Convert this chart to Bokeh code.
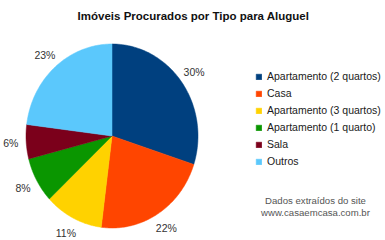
import numpy as np
from bokeh.plotting import figure
from bokeh.models import Range1d, Label, Legend, LegendItem, ColumnDataSource
from bokeh.embed import file_html
from bokeh.resources import INLINE
from bokeh.core.properties import value

# ---- data ----
categories = ["Apartamento (2 quartos)", "Casa", "Apartamento (3 quartos)",
              "Apartamento (1 quarto)", "Sala", "Outros"]
percentages = [30, 22, 11, 8, 6, 23]
colors = ["#00407F", "#FF4500", "#FFD200", "#0A9600", "#7B001B", "#5BC8FC"]
title_text = "Imóveis Procurados por Tipo para Aluguel"
footer_lines = ["Dados extraídos do site", "www.casaemcasa.com.br"]

W, H = 385, 240
cx_px, cy_px = 111.5, 135.5   # pie centre (pixels from top-left)
rx_px, ry_px = 86.0, 92.0     # pie radii in pixels

p = figure(width=W, height=H, output_backend="svg", toolbar_location=None,
           x_range=Range1d(-cx_px / rx_px, (W - cx_px) / rx_px),
           y_range=Range1d(-(H - cy_px) / ry_px, cy_px / ry_px),
           min_border=0)
p.axis.visible = False
p.grid.visible = False
p.outline_line_color = None
p.background_fill_color = "white"
p.border_fill_color = "white"

fr = np.array(percentages, dtype=float) / sum(percentages)
cum = np.concatenate([[0], np.cumsum(fr)])

items = []
for i, (cat, col) in enumerate(zip(categories, colors)):
    t = np.linspace(cum[i], cum[i + 1], 80) * 2 * np.pi
    xs = np.concatenate([[0], np.sin(t)])
    ys = np.concatenate([[0], np.cos(t)])
    r = p.patch(xs, ys, fill_color=col, line_color=col, line_width=0.5)
    items.append(LegendItem(label=cat, renderers=[r]))

# percentage labels
mid = (cum[:-1] + cum[1:]) / 2 * 2 * np.pi
lr = 1.18
src = ColumnDataSource(dict(x=lr * np.sin(mid), y=lr * np.cos(mid),
                            t=[f"{v}%" for v in percentages]))
p.text(x="x", y="y", text="t", source=src, text_align="center",
       text_baseline="middle", text_font=value("Liberation Sans"),
       text_font_size="10.5px", text_color="#333333")

legend = Legend(items=items, location=(255, 72), orientation="vertical",
                glyph_width=7, glyph_height=7, label_height=14, spacing=3,
                label_standoff=5, padding=0, margin=0,
                border_line_color=None, background_fill_alpha=0,
                label_text_font="Liberation Sans", label_text_font_size="10.5px",
                label_text_color="#1a1a1a")
p.add_layout(legend, "center")

p.add_layout(Label(x=193, y=H - 15, x_units="screen", y_units="screen",
                   text=title_text, text_align="center", text_baseline="middle",
                   text_font="Liberation Sans", text_font_style="bold",
                   text_font_size="11.5px", text_color="#111111"))

for k, line in enumerate(footer_lines):
    p.add_layout(Label(x=315, y=H - (200 + 12 * k), x_units="screen", y_units="screen",
                       text=line, text_align="center", text_baseline="middle",
                       text_font="Liberation Sans", text_font_size="9.6px",
                       text_color="#555555"))

open("out.html", "w").write(file_html(p, INLINE))
